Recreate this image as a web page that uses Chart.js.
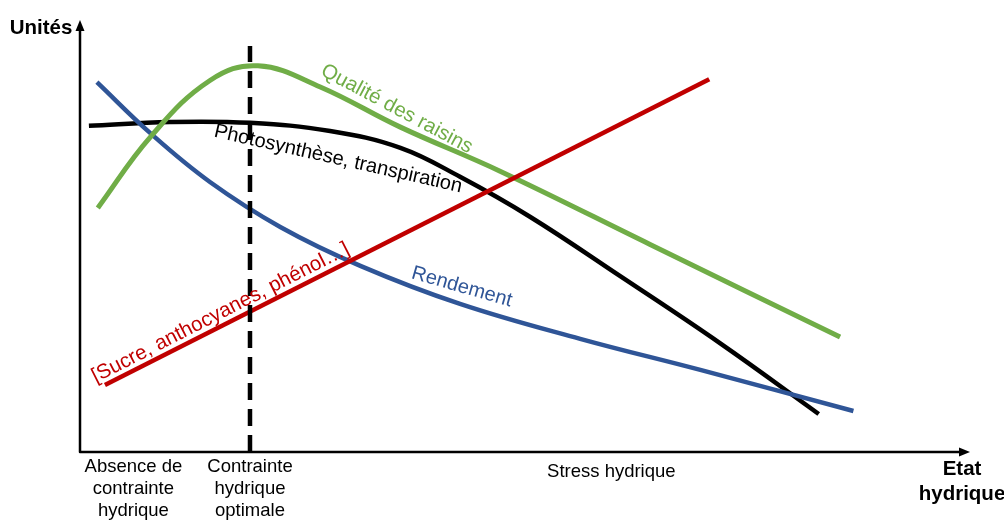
<!DOCTYPE html>
<html lang="fr">
<head>
<meta charset="utf-8">
<title>Etat hydrique</title>
<script src="https://cdn.jsdelivr.net/npm/chart.js@4.4.1/dist/chart.umd.min.js"></script>
<style>
  html, body { margin: 0; padding: 0; background: #fff; }
  #wrap { width: 1004px; height: 521px; position: relative; }
</style>
</head>
<body>
<div id="wrap"><canvas id="chart"></canvas></div>
<script>
// Values are in arbitrary units (0-100 on both axes)

const qualiteX = [2.0, 7.9, 14.6, 20.0, 27.0, 36.0, 47.2, 64.0, 85.4];
const qualiteY = [56.5, 72.9, 86.0, 89.4, 84.5, 75.2, 65.0, 48.1, 26.6];

const photoX = [1.0, 10.1, 19.1, 28.1, 36.0, 42.7, 50.6, 60.7, 71.9, 83.0];
const photoY = [75.5, 76.4, 76.2, 74.3, 70.4, 63.7, 54.4, 40.7, 25.2, 8.8];

const rendementX = [1.9, 7.9, 14.6, 22.5, 31.5, 42.7, 56.2, 69.7, 86.9];
const rendementY = [85.6, 73.8, 62.5, 52.1, 43.1, 34.3, 26.2, 19.0, 9.5];

const sucreX = [2.8, 70.7];
const sucreY = [15.5, 86.3];

// vertical marker: "Contrainte hydrique optimale"
const optimumX = 19.1;
const optimumTop = 94.0;

// category texts under the x axis
const categoryLabels = [
  { x: 6.0, lines: ["Absence de", "contrainte", "hydrique"] },
  { x: 19.1, lines: ["Contrainte", "hydrique", "optimale"] },
  { x: 59.7, lines: ["Stress hydrique"] },
];

const BLUE = "#2F5597";
const GREEN = "#70AD47";
const RED = "#C00000";
const FONT = "'Liberation Sans', Arial, sans-serif";

function toPoints(xs, ys) {
  return xs.map((x, i) => ({ x: x, y: ys[i] }));
}

// curve labels: position in data units, angle in degrees
const curveLabels = [
  { text: "Qualité des raisins", x: 35.6, y: 79.4, angle: 28, color: GREEN, size: 20.5 },
  { text: "Photosynthèse, transpiration", x: 29.0, y: 67.8, angle: 12.7, color: "#000", size: 20 },
  { text: "Rendement", x: 42.9, y: 38.2, angle: 16, color: BLUE, size: 20 },
  { text: "[Sucre, anthocyanes, phénol…]", x: 15.8, y: 32.2, angle: -27, color: RED, size: 20.5 },
];

function arrowHead(ctx, tipX, tipY, dir) {
  // dir: "up" or "right"
  ctx.beginPath();
  if (dir === "up") {
    ctx.moveTo(tipX, tipY);
    ctx.lineTo(tipX - 4.5, tipY + 11);
    ctx.lineTo(tipX + 4.5, tipY + 11);
  } else {
    ctx.moveTo(tipX, tipY);
    ctx.lineTo(tipX - 11, tipY - 4.5);
    ctx.lineTo(tipX - 11, tipY + 4.5);
  }
  ctx.closePath();
  ctx.fill();
}

const axesPlugin = {
  id: "axesPlugin",
  beforeDatasetsDraw(chart) {
    const { ctx, chartArea } = chart;
    ctx.save();
    ctx.strokeStyle = "#000";
    ctx.fillStyle = "#000";
    ctx.lineWidth = 2.5;
    ctx.lineJoin = "round";
    ctx.beginPath();
    ctx.moveTo(chartArea.left, chartArea.top + 6);
    ctx.lineTo(chartArea.left, chartArea.bottom);
    ctx.lineTo(chartArea.right - 6, chartArea.bottom);
    ctx.stroke();
    arrowHead(ctx, chartArea.left, chartArea.top, "up");
    arrowHead(ctx, chartArea.right, chartArea.bottom, "right");

    // axis titles
    ctx.font = "bold 20.5px " + FONT;
    ctx.textBaseline = "middle";
    ctx.textAlign = "center";
    ctx.fillText("Unités", 41, 28);
    ctx.fillText("Etat", 962, 469);
    ctx.fillText("hydrique", 962, 494);

    // category texts
    const xs = chart.scales.x;
    ctx.font = "18.5px " + FONT;
    categoryLabels.forEach((c) => {
      const px = xs.getPixelForValue(c.x);
      c.lines.forEach((line, i) => {
        const py = c.lines.length === 1 ? 472 : 467 + i * 22;
        ctx.fillText(line, px, py);
      });
    });
    ctx.restore();
  },
  afterDatasetsDraw(chart) {
    const { ctx } = chart;
    const xs = chart.scales.x;
    const ys = chart.scales.y;
    ctx.save();
    ctx.textAlign = "center";
    ctx.textBaseline = "middle";
    curveLabels.forEach((l) => {
      ctx.save();
      ctx.translate(xs.getPixelForValue(l.x), ys.getPixelForValue(l.y));
      ctx.rotate((l.angle * Math.PI) / 180);
      ctx.fillStyle = l.color;
      ctx.font = l.size + "px " + FONT;
      ctx.fillText(l.text, 0, 0);
      ctx.restore();
    });
    ctx.restore();
  },
};

new Chart(document.getElementById("chart"), {
  type: "line",
  data: {
    datasets: [
      {
        label: "Optimum",
        data: [
          { x: optimumX, y: 0 },
          { x: optimumX, y: optimumTop },
        ],
        borderColor: "#000",
        borderWidth: 4.5,
        borderDash: [17, 9],
        borderCapStyle: "butt",
        tension: 0,
      },
      {
        label: "Sucre",
        data: toPoints(sucreX, sucreY),
        borderColor: RED,
        borderWidth: 4.5,
        tension: 0,
      },
      {
        label: "Qualité des raisins",
        data: toPoints(qualiteX, qualiteY),
        borderColor: GREEN,
        borderWidth: 5,
      },
      {
        label: "Rendement",
        data: toPoints(rendementX, rendementY),
        borderColor: BLUE,
        borderWidth: 4.5,
      },
      {
        label: "Photosynthèse, transpiration",
        data: toPoints(photoX, photoY),
        borderColor: "#000",
        borderWidth: 4.5,
      },
    ],
  },
  options: {
    responsive: true,
    maintainAspectRatio: false,
    animation: false,
    layout: { padding: { left: 80, right: 34, top: 20, bottom: 69 } },
    elements: {
      point: { radius: 0, hoverRadius: 0 },
      line: { fill: false, tension: 0.4 },
    },
    scales: {
      x: { type: "linear", min: 0, max: 100, display: false },
      y: { type: "linear", min: 0, max: 100, display: false },
    },
    plugins: {
      legend: { display: false },
      tooltip: { enabled: false },
    },
  },
  plugins: [axesPlugin],
});
</script>
</body>
</html>
